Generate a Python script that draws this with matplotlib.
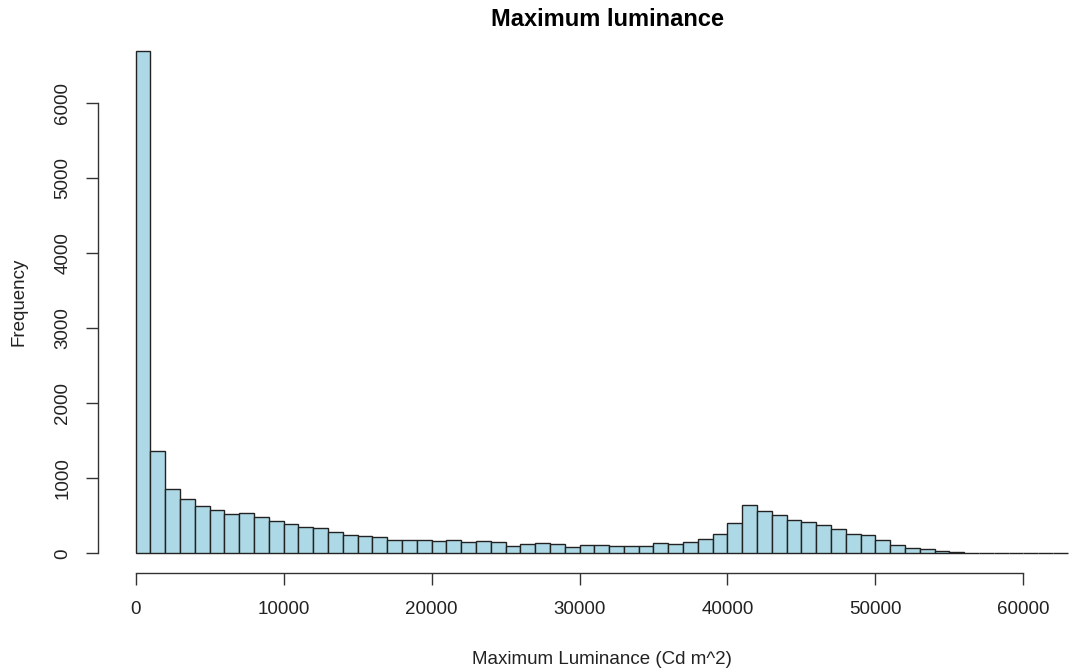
import matplotlib
matplotlib.use("Agg")
import matplotlib.pyplot as plt
import numpy as np

plt.rcParams['font.family'] = ['Liberation Sans', 'DejaVu Sans']

# Histogram counts, 1000 Cd m^2 wide bins starting at 0
bin_width = 1000
counts = [6700, 1368, 853, 720, 631, 573, 520, 537, 484, 431,
          387, 355, 333, 284, 244, 231, 217, 181, 181, 181,
          168, 173, 151, 164, 151, 93, 128, 137, 128, 80,
          115, 115, 101, 93, 97, 137, 124, 147, 187, 257,
          404, 648, 568, 515, 440, 413, 373, 324, 261, 244,
          173, 107, 65, 58, 27, 17, 9, 6, 5, 4,
          3, 3, 2]
x_ticks = [0, 10000, 20000, 30000, 40000, 50000, 60000]
y_ticks = [0, 1000, 2000, 3000, 4000, 5000, 6000]

bin_left = np.arange(len(counts)) * bin_width

fig = plt.figure(figsize=(10.72, 6.70), dpi=100)
ax = fig.add_axes([0.0918, 0.1442, 0.939, 0.810])

ax.bar(bin_left, counts, width=bin_width, align='edge',
       color='#ADD8E6', edgecolor='#222222', linewidth=1.0)

# R-style ranges with 4% padding
xr = (bin_left[0], bin_left[-1] + bin_width)
pad_x = 0.04 * (xr[1] - xr[0])
ax.set_xlim(xr[0] - pad_x, xr[1] + pad_x)
pad_y = 0.04 * max(counts)
ax.set_ylim(-pad_y, max(counts) + pad_y)

for s in ['top', 'right']:
    ax.spines[s].set_visible(False)
ax.spines['bottom'].set_bounds(x_ticks[0], x_ticks[-1])
ax.spines['left'].set_bounds(y_ticks[0], y_ticks[-1])
for s in ['bottom', 'left']:
    ax.spines[s].set_color('#333333')
    ax.spines[s].set_linewidth(1.0)

ax.set_xticks(x_ticks)
ax.set_yticks(y_ticks)
ax.set_yticklabels([str(v) for v in y_ticks], rotation=90, va='center')
ax.tick_params(axis='both', length=8.6, width=1.0, color='#333333',
               labelsize=13.5, labelcolor='#222222', pad=11)

ax.set_title('Maximum luminance', fontsize=17, fontweight='bold', pad=2,
             x=(607 - 98.4) / (1105 - 98.4))
ax.set_xlabel('Maximum Luminance (Cd m^2)', fontsize=13.5, labelpad=24,
              color='#222222')
ax.set_ylabel('Frequency', fontsize=13.5, labelpad=19, color='#222222')

fig.savefig('out.png', dpi=100)
